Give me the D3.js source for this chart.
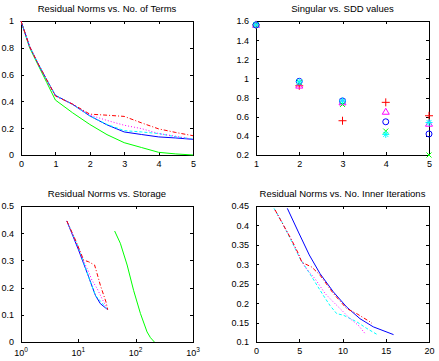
<!DOCTYPE html>
<html>
  <head>
    <script src="https://d3js.org/d3.v7.min.js"></script>
    <style>
      body { margin: 0; background: #fff; }
      text { font-family: "Liberation Sans", Arial, sans-serif; fill: #000; }
    </style>
  </head>
  <body>
    <svg id="fig" width="439" height="361"></svg>
    <script>
      // ---- panel 1: residual norms vs number of terms
      var termsX = [0, 0.25, 0.5, 0.75, 1, 1.5, 2, 2.5, 3, 3.5, 4, 4.5, 5];
      var termsRed = [1, 0.81, 0.68, 0.56, 0.44, 0.38, 0.305, 0.297, 0.288, 0.24, 0.195, 0.168, 0.144];
      var termsMagenta = [1, 0.81, 0.68, 0.56, 0.44, 0.38, 0.298, 0.258, 0.222, 0.197, 0.16, 0.14, 0.117];
      var termsBlue = [1, 0.81, 0.68, 0.56, 0.445, 0.378, 0.292, 0.225, 0.172, 0.153, 0.135, 0.127, 0.117];
      var termsCyan = [1, 0.81, 0.68, 0.56, 0.445, 0.378, 0.292, 0.228, 0.182, 0.172, 0.16, 0.136, 0.12];
      var termsGreen = [1, 0.8, 0.67, 0.54, 0.41, 0.315, 0.228, 0.152, 0.092, 0.056, 0.02, 0.008, 0];
      var termsXTicks = [0, 1, 2, 3, 4, 5];
      var termsYTicks = [0, 0.2, 0.4, 0.6, 0.8, 1];

      // ---- panel 2: singular vs SDD values
      var sddX = [1, 2, 3, 4, 5];
      var sddRed = [1.56, 0.923, 0.558, 0.75, 0.61];
      var sddMagenta = [1.56, 0.925, 0.75, 0.652, 0.527];
      var sddBlue = [1.56, 0.97, 0.765, 0.547, 0.42];
      var sddGreen = [1.56, 0.96, 0.728, 0.45, 0.2];
      var sddCyan = [1.56, 0.965, 0.765, 0.415, 0.54];
      var sddXTicks = [1, 2, 3, 4, 5];
      var sddYTicks = [0.2, 0.4, 0.6, 0.8, 1, 1.2, 1.4, 1.6];

      // ---- panel 3: residual norms vs storage (log x)
      var storRedX = [6.3, 8.9, 12.4, 15.1, 19.2, 21.2, 24.2, 27.7, 30.4, 32.5];
      var storRedY = [0.445, 0.375, 0.301, 0.295, 0.283, 0.252, 0.209, 0.172, 0.147, 0.119];
      var storMagentaX = [6.3, 8.3, 12.9, 15.1, 17.3, 21.2, 25.8, 32.5];
      var storMagentaY = [0.445, 0.387, 0.289, 0.258, 0.227, 0.197, 0.16, 0.119];
      var storBlueX = [6.3, 10.1, 15.1, 19.8, 24.2, 32.5];
      var storBlueY = [0.445, 0.338, 0.24, 0.172, 0.141, 0.119];
      var storCyanX = [6.3, 10, 16.2, 19.8, 29.6, 32.5];
      var storCyanY = [0.445, 0.35, 0.221, 0.172, 0.129, 0.119];
      var storGreenX = [43, 54, 71, 92, 121, 158, 181, 212];
      var storGreenY = [0.408, 0.363, 0.283, 0.19, 0.105, 0.037, 0.016, 0];
      var storXTicks = [1, 10, 100, 1000];
      var storYTicks = [0, 0.1, 0.2, 0.3, 0.4, 0.5];

      // ---- panel 4: residual norms vs inner iterations
      var iterRedX = [2.2, 3.16, 4.13, 4.89, 5.3, 6.44, 7.4, 8.94, 10.48, 11.64, 13.18, 13.4];
      var iterRedY = [0.44, 0.401, 0.362, 0.328, 0.305, 0.293, 0.272, 0.225, 0.186, 0.173, 0.152, 0.148];
      var iterMagentaX = [2.2, 3.16, 4.13, 4.89, 5.66, 6.82, 7.98, 8.94, 9.9, 10.87, 11.83, 12.6];
      var iterMagentaY = [0.44, 0.401, 0.362, 0.325, 0.293, 0.263, 0.225, 0.203, 0.182, 0.16, 0.143, 0.122];
      var iterBlueX = [3.62, 4.9, 6.16, 7.4, 8.94, 10.48, 12.02, 13.56, 15.9];
      var iterBlueY = [0.444, 0.383, 0.324, 0.276, 0.229, 0.19, 0.16, 0.139, 0.119];
      var iterCyanX = [2.08, 2.97, 3.93, 5.09, 6.44, 7.78, 8.55, 9.33, 10.1, 11.64, 12.8, 13.95];
      var iterCyanY = [0.444, 0.41, 0.367, 0.315, 0.268, 0.22, 0.194, 0.173, 0.169, 0.152, 0.135, 0.12];
      var iterXTicks = [0, 5, 10, 15, 20];
      var iterYTicks = [0.1, 0.15, 0.2, 0.25, 0.3, 0.35, 0.4, 0.45];

      var RED = "#ff0000", MAG = "#ff00ff", BLUE = "#0000ff", CYAN = "#00ffff", GREEN = "#00ff00";
      var dashRed = "4,2,1,2", dashMag = "1,2", dashCyan = "3,2";

      var svg = d3.select("#fig");

      function fmt(d) {
        return String(+d.toFixed(2));
      }

      // draws the box, inward ticks on all four sides and the title
      function panel(left, top, right, bottom, title, x, y, xt, yt, xfmt) {
        x.range([left, right]);
        y.range([bottom, top]);
        var g = svg.append("g");
        g.append("text")
          .attr("x", (left + right) / 2)
          .attr("y", top - 9)
          .attr("text-anchor", "middle")
          .style("font-size", "9.5px")
          .text(title);

        var sides = [
          [d3.axisBottom(x).tickValues(xt), "translate(0," + bottom + ")", true],
          [d3.axisTop(x).tickValues(xt), "translate(0," + top + ")", false],
          [d3.axisLeft(y).tickValues(yt), "translate(" + left + ",0)", true],
          [d3.axisRight(y).tickValues(yt), "translate(" + right + ",0)", false]
        ];
        sides.forEach(function (s, i) {
          var ax = s[0].tickSizeInner(-3).tickSizeOuter(0).tickPadding(i < 2 ? 6 : 7);
          ax.tickFormat(s[2] ? (i === 0 && xfmt ? xfmt : fmt) : "");
          var a = g.append("g").attr("transform", s[1]).call(ax);
          a.selectAll("path,line").attr("stroke", "#000").attr("shape-rendering", "crispEdges");
          a.selectAll("text").style("font-size", "9px").attr("fill", "#000");
        });
        return g;
      }

      function drawLine(g, x, y, xs, ys, color, dash) {
        var line = d3.line()
          .x(function (d) { return x(d[0]); })
          .y(function (d) { return y(d[1]); });
        g.append("path")
          .datum(d3.zip(xs, ys))
          .attr("d", line)
          .attr("fill", "none")
          .attr("stroke", color)
          .attr("stroke-width", 1)
          .attr("stroke-dasharray", dash || null);
      }

      // ---------- panel 1
      var x1 = d3.scaleLinear().domain([0, 5]);
      var y1 = d3.scaleLinear().domain([0, 1]);
      var g1 = panel(21, 21, 193, 155, "Residual Norms vs. No. of Terms", x1, y1, termsXTicks, termsYTicks);
      drawLine(g1, x1, y1, termsX, termsGreen, GREEN);
      drawLine(g1, x1, y1, termsX, termsBlue, BLUE);
      drawLine(g1, x1, y1, termsX, termsCyan, CYAN, dashCyan);
      drawLine(g1, x1, y1, termsX, termsMagenta, MAG, dashMag);
      drawLine(g1, x1, y1, termsX, termsRed, RED, dashRed);

      // ---------- panel 2
      var x2 = d3.scaleLinear().domain([1, 5]);
      var y2 = d3.scaleLinear().domain([0.2, 1.6]);
      var g2 = panel(256, 21, 429, 155, "Singular vs. SDD values", x2, y2, sddXTicks, sddYTicks);
      var markers = [
        [sddRed, RED, "M-4,0H4M0,-4V4"],
        [sddMagenta, MAG, "M0,-3.5L3.5,2.5H-3.5Z"],
        [sddBlue, BLUE, "M3,0A3,3 0 1,1 -3,0A3,3 0 1,1 3,0Z"],
        [sddGreen, GREEN, "M-2.5,-2.5L2.5,2.5M-2.5,2.5L2.5,-2.5"],
        [sddCyan, CYAN, "M-3.5,0H3.5M0,-3.5V3.5M-2.5,-2.5L2.5,2.5M-2.5,2.5L2.5,-2.5"]
      ];
      markers.forEach(function (m) {
        g2.selectAll(null)
          .data(d3.zip(sddX, m[0]))
          .enter()
          .append("path")
          .attr("transform", function (d) { return "translate(" + x2(d[0]) + "," + y2(d[1]) + ")"; })
          .attr("d", m[2])
          .attr("fill", "none")
          .attr("stroke", m[1])
          .attr("stroke-width", 1);
      });

      // ---------- panel 3
      var x3 = d3.scaleLog().domain([1, 1000]);
      var y3 = d3.scaleLinear().domain([0, 0.5]);
      var g3 = panel(21, 206, 193, 342, "Residual Norms vs. Storage", x3, y3, storXTicks, storYTicks, function () { return ""; });
      storXTicks.forEach(function (t, i) {
        var tx = g3.append("text")
          .attr("x", x3(t))
          .attr("y", 356)
          .attr("text-anchor", "middle")
          .style("font-size", "9px");
        tx.append("tspan").text("10");
        tx.append("tspan").attr("dy", -4).style("font-size", "6.5px").text(i);
      });
      drawLine(g3, x3, y3, storGreenX, storGreenY, GREEN);
      drawLine(g3, x3, y3, storBlueX, storBlueY, BLUE);
      drawLine(g3, x3, y3, storCyanX, storCyanY, CYAN, dashCyan);
      drawLine(g3, x3, y3, storMagentaX, storMagentaY, MAG, dashMag);
      drawLine(g3, x3, y3, storRedX, storRedY, RED, dashRed);

      // ---------- panel 4
      var x4 = d3.scaleLinear().domain([0, 20]);
      var y4 = d3.scaleLinear().domain([0.1, 0.45]);
      var g4 = panel(256, 206, 429, 342, "Residual Norms vs. No. Inner Iterations", x4, y4, iterXTicks, iterYTicks);
      drawLine(g4, x4, y4, iterBlueX, iterBlueY, BLUE);
      drawLine(g4, x4, y4, iterCyanX, iterCyanY, CYAN, dashCyan);
      drawLine(g4, x4, y4, iterMagentaX, iterMagentaY, MAG, dashMag);
      drawLine(g4, x4, y4, iterRedX, iterRedY, RED, dashRed);
    </script>
  </body>
</html>
